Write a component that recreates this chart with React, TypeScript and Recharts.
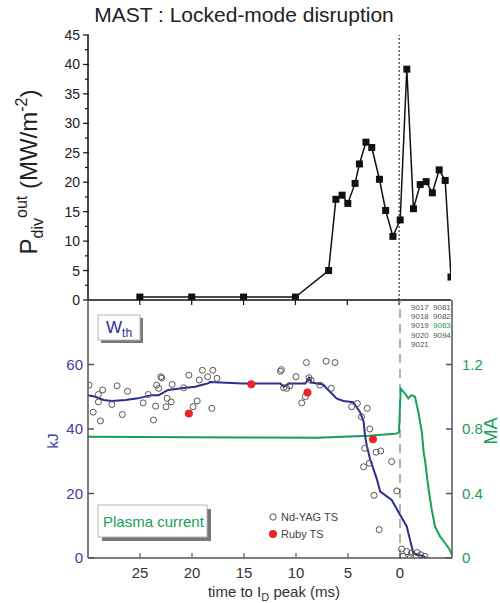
import React from 'react';
import { ComposedChart, LineChart, Line, Scatter, XAxis, YAxis, ReferenceLine } from 'recharts';

// top panel: P_div^out vs time to Ip peak (ms)
const pdivTime = [25, 20, 15, 10, 6.8, 6.1, 5.5, 4.95, 4.25, 3.83, 3.2, 2.64, 1.9, 1.3, 0.6, -0.1, -0.74, -1.38, -2.03, -2.6, -3.2, -3.86, -4.44, -5];
const pdivPower = [0.5, 0.5, 0.5, 0.5, 5.0, 17.1, 17.8, 16.4, 19.8, 23.1, 26.8, 25.9, 20.5, 15.2, 10.8, 13.6, 39.2, 15.5, 19.6, 20.1, 18.2, 22.1, 20.3, 3.9];

// bottom panel: stored energy (kJ)
const wthTime = [30, 29.3, 28.5, 27.7, 26.4, 25.2, 23.9, 23.2, 22.3, 21.0, 19.7, 18.9, 18.4, 18.3, 15.1, 11.5, 11.2, 10.7, 9.1, 8.75, 8.5, 7.4, 6.9, 6.1, 5.45, 4.5, 3.85, 3.5, 3.37, 3.2, 2.9, 2.25, 1.9, 0.8, 0, -0.65, -0.96, -1.28, -1.76, -2.24, -2.6];
const wthEnergy = [50.5, 50.0, 49.0, 48.7, 49.0, 49.5, 50.5, 50.5, 52.1, 52.6, 53.1, 53.8, 54.2, 54.6, 54.1, 54.1, 53.1, 54.1, 54.1, 55.9, 54.4, 53.8, 52.1, 49.5, 48.7, 48.3, 45.3, 42.3, 38.1, 35.0, 30.9, 24.7, 20.6, 18.0, 13.4, 9.8, 5.7, 1.5, 1.0, 0.5, 0];

// plasma current (MA)
const ipTime = [30, 15, 8, 3, 0.5, 0.3, 0.1, -0.07, -0.48, -0.8, -1.1, -1.44, -1.76, -2.1, -2.3, -2.4, -2.72, -3.05, -3.37, -3.85, -4.33, -4.8, -5];
const ipCurrent = [0.752, 0.748, 0.745, 0.758, 0.77, 0.773, 0.78, 1.05, 1.02, 0.99, 1.01, 1.0, 0.906, 0.78, 0.64, 0.61, 0.44, 0.3, 0.195, 0.134, 0.093, 0.05, 0.02];

// Thomson scattering points (kJ)
const ndyagTime = [29.9, 29.0, 28.6, 29.0, 29.5, 28.8, 27.2, 27.7, 26.2, 26.7, 24.7, 24.2, 23.5, 23.7, 23.4, 23.0, 22.9, 23.2, 22.4, 22.5, 21.9, 22.0, 20.8, 20.3, 19.5, 19.9, 19.0, 19.3, 18.5, 18.0, 18.1, 17.6, 11.5, 11.4, 10.0, 11.2, 10.6, 10.9, 9.0, 7.1, 6.25, 8.75, 8.55, 7.7, 9.1, 9.45, 6.6, 4.65, 4.1, 3.15, 3.7, 2.9, 3.4, 2.3, 1.85, 2.95, 0.8, 3.5, 2.5, 0.3, 2.0, -0.15, -0.65, -0.3, -1.1, -1.65, -2.0, -2.4, -1.0];
const ndyagEnergy = [53.6, 50.7, 52.1, 48.4, 45.2, 42.5, 53.4, 47.6, 51.7, 44.5, 48.1, 50.7, 47.1, 42.8, 53.6, 56.2, 55.8, 52.6, 49.5, 46.9, 53.8, 48.4, 52.8, 56.7, 48.7, 46.9, 58.2, 55.2, 56.2, 58.2, 46.4, 55.7, 57.9, 58.4, 56.2, 52.8, 53.4, 52.6, 60.6, 61.0, 60.6, 55.9, 55.1, 53.6, 50.0, 48.1, 52.6, 46.9, 47.9, 46.4, 43.8, 40.0, 34.0, 32.8, 33.2, 29.4, 29.9, 28.3, 19.4, 20.8, 8.8, 2.8, 2.0, 0.5, 1.5, 1.7, 1.0, 0.5, 0.3];
const rubyTime = [20.3, 14.3, 8.9, 2.6];
const rubyEnergy = [44.8, 53.9, 51.3, 36.8];

const timeTicks = [0, 5, 10, 15, 20, 25];
const pdivTicks = [0, 2.5, 5, 7.5, 10, 12.5, 15, 17.5, 20, 22.5, 25, 27.5, 30, 32.5, 35, 37.5, 40, 42.5, 45];
const kjTicks = [0, 20, 40, 60];
const maTicks = [0, 0.4, 0.8, 1.2];
const shotsA = ['9017', '9018', '9019', '9020', '9021'];
const shotsB = ['9081', '9082', '9083', '9094'];

const pdivData = pdivTime.map((t, i) => ({ t, p: pdivPower[i] }));
const wthData = wthTime.map((t, i) => ({ t, w: wthEnergy[i] }));
const ipData = ipTime.map((t, i) => ({ t, ma: ipCurrent[i] }));
const ndyagData = ndyagTime.map((t, i) => ({ t, w: ndyagEnergy[i] }));
const rubyData = rubyTime.map((t, i) => ({ t, w: rubyEnergy[i] }));

const TOP = { l: 88, r: 451, t: 35, b: 300 };
const BOT = { l: 88, r: 452, t: 300, b: 558 };
const BLUE = '#2c2f8e';
const BLUE_TXT = '#3e419e';
const GREEN = '#16a05a';
const FONT = "'Liberation Sans', Arial, Helvetica, sans-serif";

const topLeftTick = (p: any) => {
  const major = p.payload.value % 5 === 0;
  return (
    <g>
      <line x1={TOP.l - (major ? 5 : 3)} x2={TOP.l + (major ? 1 : 0)} y1={p.y} y2={p.y} stroke="#111" strokeWidth={1.2} />
      {major && (
        <text x={TOP.l - 8} y={p.y} dy={5} textAnchor="end" fontSize={14} fill="#222">{p.payload.value}</text>
      )}
    </g>
  );
};
const topRightTick = (p: any) => {
  const major = p.payload.value % 5 === 0;
  return <line x1={TOP.r - (major ? 5 : 3)} x2={TOP.r} y1={p.y} y2={p.y} stroke="#111" strokeWidth={1.2} />;
};
const topUpperTick = (p: any) => <line x1={p.x} x2={p.x} y1={TOP.t} y2={TOP.t + 5} stroke="#111" strokeWidth={1.2} />;
const topLowerTick = (p: any) => <line x1={p.x} x2={p.x} y1={TOP.b} y2={TOP.b + 5} stroke="#111" strokeWidth={1.2} />;

const botXTick = (p: any) => (
  <g>
    <line x1={p.x} x2={p.x} y1={BOT.b} y2={BOT.b - 5} stroke="#555" strokeWidth={1.2} />
    <text x={p.x} y={BOT.b + 20} textAnchor="middle" fontSize={15} fill="#333">{p.payload.value}</text>
  </g>
);
const botLeftTick = (p: any) => (
  <g>
    <line x1={BOT.l} x2={BOT.l + 6} y1={p.y} y2={p.y} stroke="#555" strokeWidth={1.5} />
    <text x={BOT.l - 5} y={p.y} dy={5} textAnchor="end" fontSize={15} fill={BLUE_TXT}>{p.payload.value}</text>
  </g>
);
const botRightTick = (p: any) => (
  <g>
    <line x1={BOT.r - 6} x2={BOT.r} y1={p.y} y2={p.y} stroke="#555" strokeWidth={1.5} />
    <text x={BOT.r + 10} y={p.y} dy={5} textAnchor="start" fontSize={15} fill={GREEN}>
      {p.payload.value === 0 ? '0' : p.payload.value.toFixed(1)}
    </text>
  </g>
);

const squareDot = (p: any) => <rect key={`sq-${p.index}`} x={p.cx - 3.5} y={p.cy - 3.5} width={7} height={7} fill="#111" />;
const openCircle = (p: any) => <circle cx={p.cx} cy={p.cy} r={3} fill="none" stroke="#555" strokeWidth={1} />;
const redDot = (p: any) => <circle cx={p.cx} cy={p.cy} r={4} fill="#e8262a" />;

export default function App() {
  return (
    <div style={{ position: 'absolute', left: 0, top: 0, width: 500, height: 603, background: '#fff', fontFamily: FONT }}>
      <div style={{ position: 'absolute', left: 0, top: 0 }}>
        <LineChart width={500} height={310} data={pdivData} margin={{ top: 35, right: 49, bottom: 0, left: 48 }}>
          <XAxis xAxisId="b" dataKey="t" type="number" domain={[-5, 30]} reversed allowDataOverflow ticks={timeTicks} interval={0}
            height={10} axisLine={{ stroke: '#111', strokeWidth: 1.5 }} tickLine={false} tick={topLowerTick} />
          <XAxis xAxisId="t" orientation="top" dataKey="t" type="number" domain={[-5, 30]} reversed allowDataOverflow ticks={timeTicks} interval={0}
            height={0} axisLine={{ stroke: '#111', strokeWidth: 1.5 }} tickLine={false} tick={topUpperTick} />
          <YAxis yAxisId="l" type="number" domain={[0, 45]} allowDataOverflow ticks={pdivTicks} interval={0} width={40}
            axisLine={{ stroke: '#111', strokeWidth: 1.5 }} tickLine={false} tick={topLeftTick} />
          <YAxis yAxisId="r" orientation="right" type="number" domain={[0, 45]} allowDataOverflow ticks={pdivTicks} interval={0} width={0}
            axisLine={{ stroke: '#111', strokeWidth: 1.5 }} tickLine={false} tick={topRightTick} />
          <ReferenceLine xAxisId="b" yAxisId="l" x={0} stroke="#111" strokeWidth={1} strokeDasharray="2 2" />
          <Line xAxisId="b" yAxisId="l" dataKey="p" type="linear" stroke="#111" strokeWidth={1.5} dot={squareDot} isAnimationActive={false} />
        </LineChart>
      </div>
      <div style={{ position: 'absolute', left: 0, top: 0 }}>
        <ComposedChart width={500} height={603} margin={{ top: 300, right: 0, bottom: 0, left: 48 }}>
          <XAxis dataKey="t" type="number" domain={[-5, 30]} reversed allowDataOverflow ticks={timeTicks} interval={0}
            height={45} axisLine={{ stroke: '#555', strokeWidth: 1.5 }} tickLine={false} tick={botXTick} />
          <YAxis yAxisId="kj" type="number" domain={[0, 80]} allowDataOverflow ticks={kjTicks} interval={0} width={40}
            axisLine={{ stroke: '#555', strokeWidth: 1.5 }} tickLine={false} tick={botLeftTick} />
          <YAxis yAxisId="ma" orientation="right" type="number" domain={[0, 1.6]} allowDataOverflow ticks={maTicks} interval={0} width={48}
            axisLine={{ stroke: '#555', strokeWidth: 1.5 }} tickLine={false} tick={botRightTick} />
          <ReferenceLine yAxisId="kj" x={0} stroke="#9b9b9b" strokeWidth={1.5} strokeDasharray="9 6" />
          <Scatter yAxisId="kj" data={ndyagData} dataKey="w" shape={openCircle} isAnimationActive={false} />
          <Line yAxisId="ma" data={ipData} dataKey="ma" type="linear" stroke={GREEN} strokeWidth={2} dot={false} isAnimationActive={false} />
          <Line yAxisId="kj" data={wthData} dataKey="w" type="linear" stroke={BLUE} strokeWidth={2} dot={false} isAnimationActive={false} />
          <Scatter yAxisId="kj" data={rubyData} dataKey="w" shape={redDot} isAnimationActive={false} />
        </ComposedChart>
      </div>
      <svg width={500} height={603} style={{ position: 'absolute', left: 0, top: 0, pointerEvents: 'none' }} fontFamily={FONT}>
        <text x={244} y={22} textAnchor="middle" fontSize={21} fill="#222">MAST : Locked-mode disruption</text>
        <text transform="translate(37,172) rotate(-90)" textAnchor="middle" fontSize={24} fill="#222">
          P<tspan fontSize={16} dy={6}>div</tspan>
          <tspan fontSize={16} dy={-16}>out</tspan>
          <tspan fontSize={24} dy={10}>{'\u00a0(MW/m'}</tspan>
          <tspan fontSize={16} dy={-10}>-2</tspan>
          <tspan fontSize={24} dy={10}>)</tspan>
        </text>
        <text transform="translate(58,441) rotate(-90)" textAnchor="middle" fontSize={15} fill={BLUE_TXT}>kJ</text>
        <text transform="translate(497,431) rotate(-90)" textAnchor="middle" fontSize={18} fill={GREEN}>MA</text>
        <text x={274} y={597} textAnchor="middle" fontSize={15} fill="#333">
          time to I<tspan fontSize={11} dy={4}>D</tspan>
          <tspan fontSize={15} dy={-4}> peak (ms)</tspan>
        </text>
        <rect x={101} y={318} width={42} height={25} fill="#777" />
        <rect x={98} y={315} width={42} height={25} fill="#fff" stroke="#b5b5b5" />
        <text x={106} y={333} fontSize={17} fill={BLUE}>
          W<tspan fontSize={12} dy={4}>th</tspan>
        </text>
        <rect x={102} y={509} width={109} height={32} fill="#777" />
        <rect x={98} y={505} width={109} height={32} fill="#fff" stroke="#b5b5b5" />
        <text x={103} y={527} fontSize={15} fill={GREEN}>Plasma current</text>
        <circle cx={273} cy={517} r={3.2} fill="none" stroke="#555" strokeWidth={1} />
        <text x={281} y={521} fontSize={11} fill="#444">Nd-YAG TS</text>
        <circle cx={273} cy={534} r={4} fill="#e8262a" />
        <text x={281} y={538} fontSize={11} fill="#444">Ruby TS</text>
        {shotsA.map((s, i) => (
          <text key={s} x={411} y={310 + i * 9.2} fontSize={8} fill="#555">{s}</text>
        ))}
        {shotsB.map((s, i) => (
          <text key={s} x={433} y={310 + i * 9.2} fontSize={8} fill={s === '9083' ? GREEN : '#555'}>{s}</text>
        ))}
      </svg>
    </div>
  );
}
